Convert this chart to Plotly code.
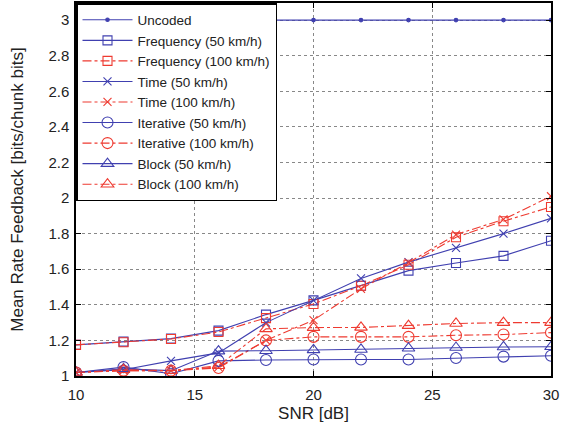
import plotly.graph_objects as go

snr = [10, 12, 14, 16, 18, 20, 22, 24, 26, 28, 30]

uncoded = [3, 3, 3, 3, 3, 3, 3, 3, 3, 3, 3]
freq_50 = [1.175, 1.193, 1.21, 1.255, 1.345, 1.425, 1.507, 1.592, 1.635, 1.675, 1.76]
freq_100 = [1.175, 1.19, 1.208, 1.247, 1.325, 1.405, 1.507, 1.625, 1.78, 1.87, 1.95]
time_50 = [1.02, 1.035, 1.085, 1.13, 1.30, 1.425, 1.548, 1.64, 1.72, 1.80, 1.886]
time_100 = [1.02, 1.03, 1.03, 1.05, 1.20, 1.314, 1.49, 1.637, 1.795, 1.88, 2.01]
iter_50 = [1.02, 1.05, 1.013, 1.085, 1.09, 1.093, 1.093, 1.093, 1.101, 1.109, 1.114]
iter_100 = [1.02, 1.03, 1.03, 1.045, 1.20, 1.22, 1.22, 1.22, 1.229, 1.233, 1.244]
block_50 = [1.02, 1.04, 1.03, 1.14, 1.142, 1.147, 1.149, 1.156, 1.16, 1.163, 1.164]
block_100 = [1.02, 1.035, 1.03, 1.058, 1.265, 1.272, 1.273, 1.283, 1.295, 1.30, 1.30]

y_ticks = [1, 1.2, 1.4, 1.6, 1.8, 2, 2.2, 2.4, 2.6, 2.8, 3]
y_ticktext = ["1", "1.2", "1.4", "1.6", "1.8", "2", "2.2", "2.4", "2.6", "2.8", "3"]

BLUE = "#4040b0"
RED = "#ee3a30"

series = [
    ("Uncoded", uncoded, BLUE, "solid", "circle", 3.5),
    ("Frequency (50 km/h)", freq_50, BLUE, "solid", "square-open", 9),
    ("Frequency (100 km/h)", freq_100, RED, "dashdot", "square-open", 9),
    ("Time (50 km/h)", time_50, BLUE, "solid", "x-thin-open", 8),
    ("Time (100 km/h)", time_100, RED, "dashdot", "x-thin-open", 8),
    ("Iterative (50 km/h)", iter_50, BLUE, "solid", "circle-open", 11),
    ("Iterative (100 km/h)", iter_100, RED, "dashdot", "circle-open", 11),
    ("Block (50 km/h)", block_50, BLUE, "solid", "triangle-up-open", 11),
    ("Block (100 km/h)", block_100, RED, "dashdot", "triangle-up-open", 11),
]

fig = go.Figure()
for name, ys, col, dash, sym, sz in series:
    fig.add_trace(go.Scatter(
        x=snr, y=ys, name=name, mode="lines+markers",
        line=dict(color=col, width=1.1, dash=dash),
        marker=dict(symbol=sym, size=sz, color=col, line=dict(color=col, width=1.1)),
    ))

axis_common = dict(
    showgrid=True, gridcolor="#888888", griddash="dot", gridwidth=1,
    showline=True, linecolor="black", linewidth=1.5, mirror="ticks",
    ticks="inside", ticklen=5, tickcolor="black",
    zeroline=False, automargin=False,
    tickfont=dict(family="Liberation Sans, Arial", size=15, color="#222222"),
)

fig.update_layout(
    width=561, height=436,
    margin=dict(l=76, r=10, t=3, b=60),
    paper_bgcolor="white", plot_bgcolor="white",
    font=dict(family="Liberation Sans, Arial", color="#222222"),
    xaxis=dict(range=[10, 30], dtick=5, tick0=10, ticklabelstandoff=4,
               title=dict(text="SNR [dB]", font=dict(size=17), standoff=5),
               **axis_common),
    yaxis=dict(range=[1, 3.096], tickvals=y_ticks, ticktext=y_ticktext,
               ticklabelstandoff=2,
               title=dict(text="Mean Rate Feedback [bits/chunk bits]", font=dict(size=17), standoff=20),
               **axis_common),
    legend=dict(
        x=0, y=1, xanchor="left", yanchor="top",
        bgcolor="white", bordercolor="black", borderwidth=1.5,
        font=dict(family="Liberation Sans, Arial", size=13.5, color="#222222"),
        tracegroupgap=0, itemwidth=50,
    ),
    showlegend=True,
)

fig.write_html("out.html", config={"displayModeBar": False},
               post_script="document.body.style.margin='0px';")
